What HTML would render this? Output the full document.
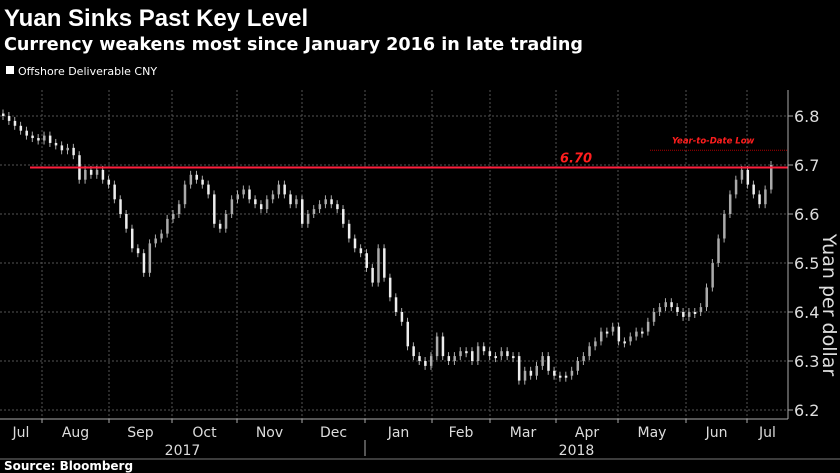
<!DOCTYPE html>
<html><head><meta charset="utf-8"><style>
body{margin:0;background:#000;width:840px;height:473px;overflow:hidden;font-family:"DejaVu Sans","Liberation Sans",sans-serif;color:#fff}
svg{position:absolute;left:0;top:0}
text{font-family:"DejaVu Sans","Liberation Sans",sans-serif}
</style></head><body>
<svg id="c" width="840" height="473">
<text x="4" y="26" font-size="24" font-weight="bold" fill="#fff" style="font-family:'Liberation Sans',sans-serif">Yuan Sinks Past Key Level</text>
<text x="4" y="50" font-size="17.6" font-weight="bold" fill="#fff">Currency weakens most since January 2016 in late trading</text>
<rect x="6" y="66" width="8" height="8" fill="#fff"/>
<text x="18" y="75" font-size="11" fill="#fff">Offshore Deliverable CNY</text>
<g id="grid"></g><g id="marks"></g><g id="axes"></g>
<text transform="translate(823,305) rotate(90)" font-size="19" fill="#ddd" text-anchor="middle">Yuan per dollar</text>
<line x1="0" y1="459" x2="840" y2="459" stroke="#777" stroke-width="1"/>
<text x="4" y="470" font-size="12" font-weight="bold" fill="#fff">Source: Bloomberg</text>
</svg>
<script>
const closes=[6.80,6.79,6.78,6.77,6.76,6.755,6.75,6.76,6.745,6.74,6.73,6.735,6.72,6.67,6.69,6.68,6.69,6.67,6.66,6.63,6.60,6.57,6.53,6.52,6.48,6.54,6.55,6.56,6.59,6.60,6.62,6.66,6.68,6.67,6.66,6.64,6.58,6.57,6.60,6.63,6.64,6.65,6.63,6.62,6.61,6.63,6.64,6.66,6.64,6.62,6.63,6.58,6.60,6.61,6.62,6.63,6.62,6.61,6.58,6.55,6.53,6.52,6.49,6.46,6.53,6.47,6.43,6.40,6.38,6.33,6.31,6.30,6.29,6.31,6.35,6.31,6.30,6.31,6.32,6.32,6.30,6.33,6.32,6.31,6.31,6.32,6.31,6.31,6.26,6.28,6.27,6.29,6.31,6.28,6.27,6.27,6.27,6.28,6.30,6.31,6.33,6.34,6.36,6.36,6.37,6.34,6.34,6.35,6.36,6.36,6.38,6.40,6.41,6.42,6.41,6.40,6.39,6.40,6.40,6.41,6.45,6.50,6.55,6.60,6.64,6.67,6.69,6.66,6.64,6.62,6.65,6.70];
const yTicks=[6.2,6.3,6.4,6.5,6.6,6.7,6.8];
const months=["Jul","Aug","Sep","Oct","Nov","Dec","Jan","Feb","Mar","Apr","May","Jun","Jul"];
const monthBounds=[0,42,109,172,237,302,365,432,490,556,618,686,747,788];
const years=["2017","2018"];
const keyLevel=6.695;
const ytdLow=6.73;

const NS="http://www.w3.org/2000/svg";
const X0=3,X1=771,RIGHT=788,TOP=90,BOTTOM=419;
function y(v){return 116+(6.8-v)*490;}
function x(i){return X0+i*(X1-X0)/(closes.length-1);}
function mk(tag,attrs,parent){const e=document.createElementNS(NS,tag);for(const k in attrs)e.setAttribute(k,attrs[k]);parent.appendChild(e);return e;}
const grid=document.getElementById('grid'),marks=document.getElementById('marks'),axes=document.getElementById('axes');
yTicks.forEach(t=>{
 const l=mk('line',{x1:0,x2:RIGHT,y1:y(t),y2:y(t),stroke:'#555','stroke-dasharray':'2,2'},grid);
 
 
 const tk=mk('line',{x1:RIGHT,x2:RIGHT+5,y1:y(t),y2:y(t),stroke:'#aaa'},axes);
 
 
 const tx=mk('text',{x:RIGHT+6,y:y(t)+6,'font-size':16,fill:'#ddd'},axes);
 tx.textContent=t.toFixed(1);
 
 
});
monthBounds.slice(1,-1).forEach(b=>{
 const l=mk('line',{x1:b,x2:b,y1:TOP,y2:BOTTOM,stroke:'#555','stroke-dasharray':'2,2'},grid);
 
 
 const tk=mk('line',{x1:b,x2:b,y1:BOTTOM,y2:BOTTOM+4,stroke:'#aaa'},axes);
 
 
});
months.forEach((m,i)=>{
 const cx=(monthBounds[i]+monthBounds[i+1])/2;
 const tx=mk('text',{x:cx,y:437,'font-size':14,fill:'#ddd','text-anchor':'middle'},axes);
 tx.textContent=m;
 
 
});
[[monthBounds[0],monthBounds[6]],[monthBounds[6],monthBounds[13]]].forEach((r,i)=>{
 const tx=mk('text',{x:(r[0]+r[1])/2,y:455,'font-size':14,fill:'#ddd','text-anchor':'middle'},axes);
 tx.textContent=years[i];
 
 
});
const sep=mk('line',{x1:monthBounds[6],x2:monthBounds[6],y1:440,y2:456,stroke:'#aaa'},axes);


const ax=mk('line',{x1:RIGHT,x2:RIGHT,y1:TOP,y2:BOTTOM,stroke:'#aaa'},axes);


const bx=mk('line',{x1:0,x2:RIGHT,y1:BOTTOM,y2:BOTTOM,stroke:'#aaa'},axes);


closes.forEach((c,i)=>{
 const o=i?closes[i-1]:c+0.005;
 const top=Math.min(y(o),y(c)),h=Math.max(2,Math.abs(y(o)-y(c)));
 const w=mk('line',{x1:x(i),x2:x(i),y1:top-4,y2:top+h+4,stroke:'#aaa','stroke-width':1},marks);
 
 
 const r=mk('rect',{x:x(i)-1,y:top,width:2.5,height:h,fill:c>o?'#aaa':'#eee'},marks);
 
 
});
const rl=mk('line',{x1:30,x2:RIGHT,y1:y(keyLevel),y2:y(keyLevel),stroke:'#ff1e3c','stroke-width':2},marks);


const rt=mk('text',{x:560,y:y(keyLevel)-5,'font-size':13,'font-weight':'bold','font-style':'italic',fill:'#ff1e1e'},marks);
rt.textContent='6.70';


const yl=mk('line',{x1:650,x2:RIGHT,y1:y(ytdLow),y2:y(ytdLow),stroke:'#a00','stroke-dasharray':'1,1'},marks);


const yt=mk('text',{x:672,y:y(ytdLow)-7,'font-size':8.5,'font-weight':'bold','font-style':'italic',fill:'#ff1e1e'},marks);
yt.textContent='Year-to-Date Low';


</script>
</body></html>
